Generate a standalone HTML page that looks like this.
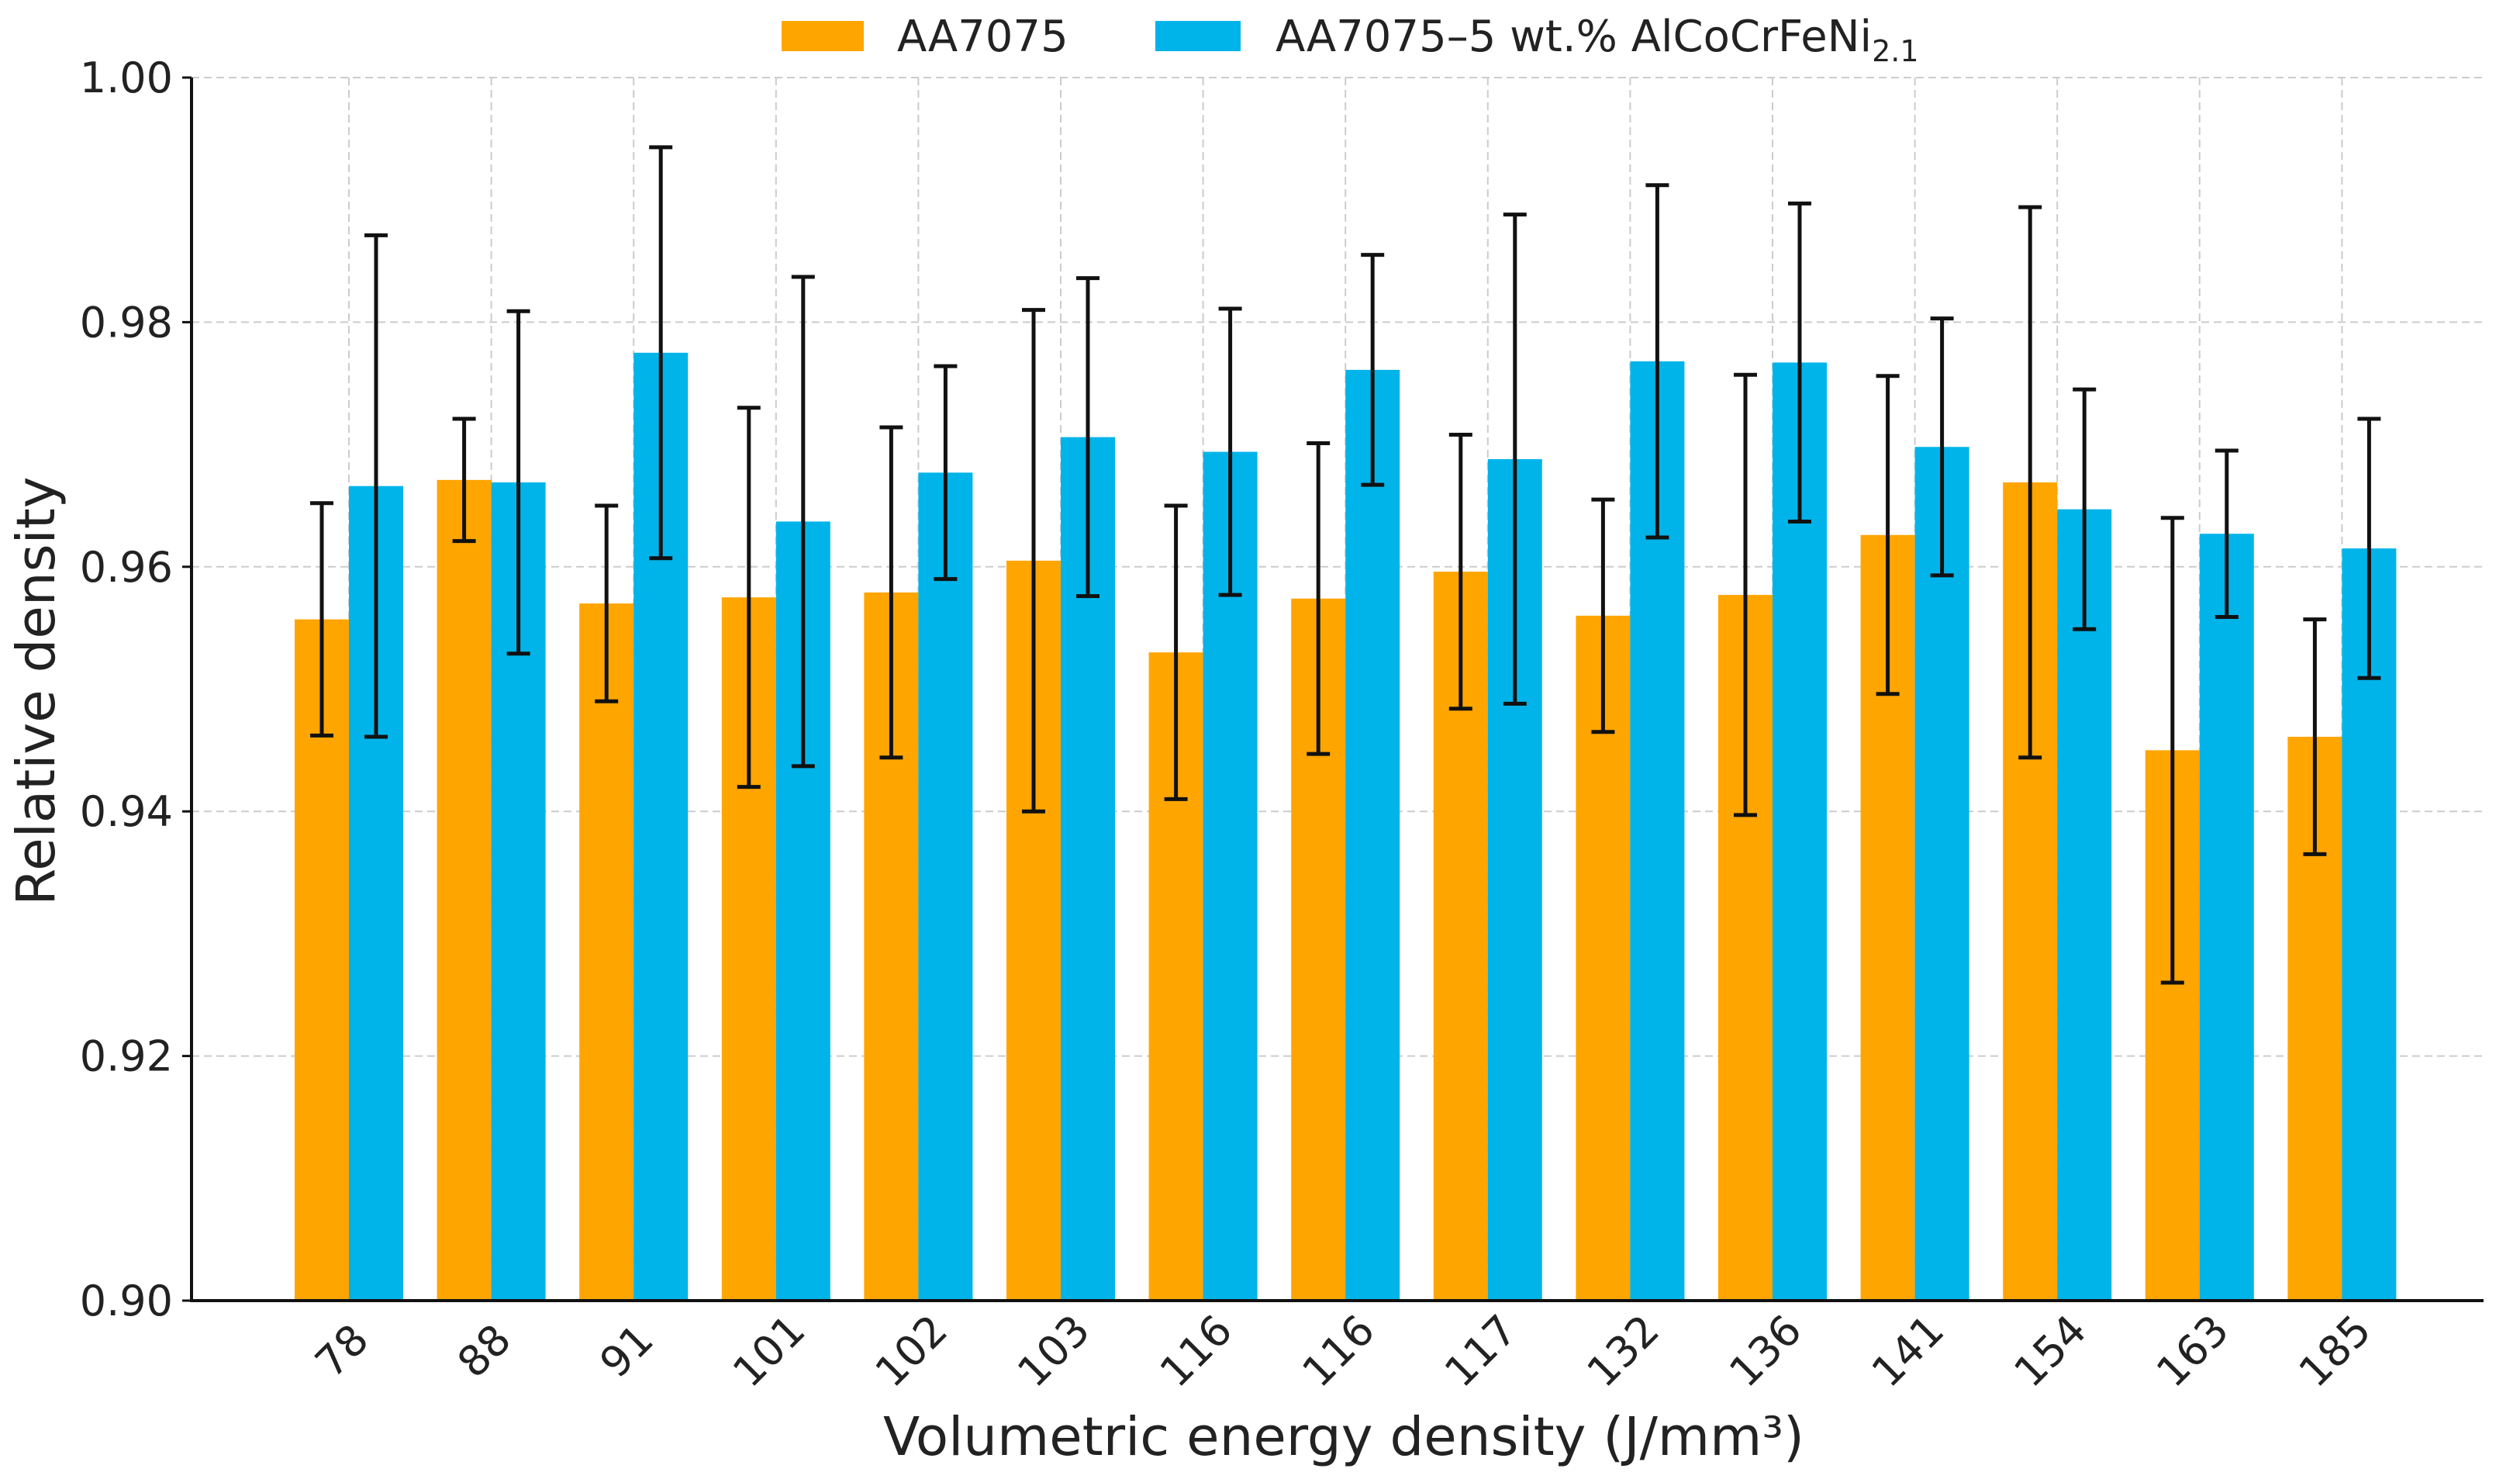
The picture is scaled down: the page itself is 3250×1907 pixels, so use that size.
<!DOCTYPE html>
<html><head><meta charset="utf-8"><style>
html,body{margin:0;padding:0;background:#fff;}
svg{display:block;font-family:"DejaVu Sans","Liberation Sans",sans-serif;}
</style></head><body>
<svg id="chart" width="3250" height="1907" viewBox="0 0 3250 1907" xmlns="http://www.w3.org/2000/svg">
<g id="grid"></g>
<g id="bars"></g>
<g id="errs"></g>
<g id="axes"></g>
<g>
 <rect x="1008" y="27" width="106" height="39" fill="#FFA500"/>
 <text x="1157" y="66" font-size="56" fill="#222">AA7075</text>
 <rect x="1490" y="27" width="110" height="39" fill="#00B4EA"/>
 <text x="1645" y="66" font-size="56" fill="#222">AA7075–5 wt.% AlCoCrFeNi<tspan font-size="38" dy="13">2.1</tspan></text>
</g>
<text x="1733" y="1876" font-size="69" text-anchor="middle" fill="#222">Volumetric energy density (J/mm³)</text>
<text transform="translate(70,891) rotate(-90)" font-size="69" text-anchor="middle" fill="#222">Relative density</text>
</svg>
<script>
const categories = ["78","88","91","101","102","103","116","116","117","132","136","141","154","163","185"];
const aaValues = [0.9557,0.9671,0.9570,0.9575,0.9579,0.9605,0.9530,0.9574,0.9596,0.9560,0.9577,0.9626,0.9669,0.9450,0.9461];
const aaErr = [0.0095,0.0050,0.0080,0.0155,0.0135,0.0205,0.0120,0.0127,0.0112,0.0095,0.0180,0.0130,0.0225,0.0190,0.0096];
const compValues = [0.9666,0.9669,0.9775,0.9637,0.9677,0.9706,0.9694,0.9761,0.9688,0.9768,0.9767,0.9698,0.9647,0.9627,0.9615];
const compErr = [0.0205,0.0140,0.0168,0.0200,0.0087,0.0130,0.0117,0.0094,0.0200,0.0144,0.0130,0.0105,0.0098,0.0068,0.0106];
const yTicks = [0.90,0.92,0.94,0.96,0.98,1.00];
const yTickLabels = ["0.90","0.92","0.94","0.96","0.98","1.00"];

const NS="http://www.w3.org/2000/svg";
const L=247,R=3203,T=100,B=1677,yMin=0.90,yMax=1.00;
const firstC=450,step=183.6,bw=70;
function y(v){return B-(v-yMin)/(yMax-yMin)*(B-T);}
function xc(i){return firstC+i*step;}
function mk(parent,tag,attrs){const e=document.createElementNS(NS,tag);for(const k in attrs)e.setAttribute(k,attrs[k]);document.getElementById(parent).appendChild(e);return e;}

yTicks.forEach((t,i)=>{
  const g=mk('grid','line',{x1:L,x2:R,y1:y(t),y2:y(t),stroke:'#ccc','stroke-width':2,'stroke-dasharray':'10,6'});
  
  
  const tk=mk('axes','line',{x1:L-12,x2:L,y1:y(t),y2:y(t),stroke:'#111','stroke-width':3});
  
  
  const tx=mk('axes','text',{x:L-24,y:y(t)+19,'font-size':54,'text-anchor':'end',fill:'#222'});
  tx.textContent=yTickLabels[i];
  
  
});
categories.forEach((c,i)=>{
  const g=mk('grid','line',{x1:xc(i),x2:xc(i),y1:T,y2:B,stroke:'#ccc','stroke-width':2,'stroke-dasharray':'10,6'});
  
  
  const b1=mk('bars','rect',{x:xc(i)-bw,y:y(aaValues[i]),width:bw,height:B-y(aaValues[i]),fill:'#FFA500'});
  
  
  const b2=mk('bars','rect',{x:xc(i),y:y(compValues[i]),width:bw,height:B-y(compValues[i]),fill:'#00B4EA'});
  
  
  [[xc(i)-bw/2,aaValues[i],aaErr[i]],[xc(i)+bw/2,compValues[i],compErr[i]]].forEach(([x,v,e])=>{
    const p=mk('errs','path',{d:`M${x},${y(v+e)}V${y(v-e)}M${x-15},${y(v+e)}h30M${x-15},${y(v-e)}h30`,stroke:'#111','stroke-width':5,fill:'none'});
    
    
  });
  const tx=mk('axes','text',{x:0,y:0,'font-size':54,'text-anchor':'middle',fill:'#222',transform:`translate(${xc(i)+4},${1755}) rotate(-45)`});
  tx.textContent=c;
  
  
});
const ax=mk('axes','path',{d:`M${L},${T}V${B}H${R}`,stroke:'#111','stroke-width':4,fill:'none'});


</script>
</body></html>
